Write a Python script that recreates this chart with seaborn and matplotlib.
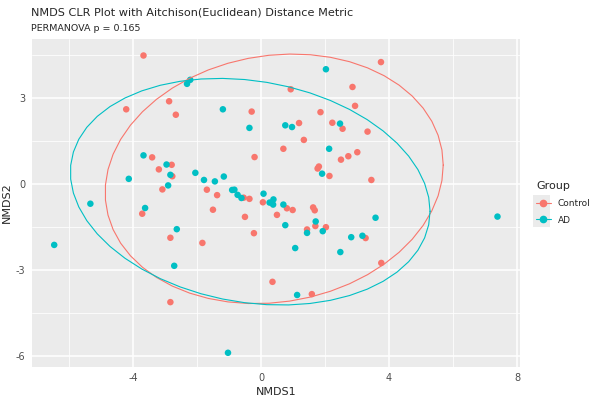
import numpy as np
import pandas as pd
import matplotlib
matplotlib.use("Agg")
import matplotlib.pyplot as plt
from matplotlib.lines import Line2D
from matplotlib.patches import Rectangle
from matplotlib.ticker import MultipleLocator
import seaborn as sns

# =========================
# DATA
# =========================
control_x = [-3.67, -4.21, -2.87, -2.66, -0.29, -0.20, -3.40, -3.19, -2.79, -2.77,
             -3.08, -1.69, -1.37, -0.54, -0.36, 0.06, -3.71, -1.50, -0.50, -2.83,
             -1.83, -0.22, -2.83, 0.36, 0.50, 0.81, 0.99, 1.63, 1.68, 1.70,
             2.03, 1.44, 3.27, 3.76, 1.59, 3.75, 0.93, 2.86, 2.94, 1.86,
             1.19, 2.23, 2.55, 3.33, 1.34, 0.70, 2.50, 2.73, 3.01, 1.77,
             1.81, 2.14, 3.45]
control_y = [4.49, 2.61, 2.89, 2.42, 2.53, 0.94, 0.93, 0.51, 0.67, 0.27,
             -0.19, -0.20, -0.39, -0.48, -0.52, -0.64, -1.04, -0.90, -1.15, -1.88,
             -2.06, -1.72, -4.13, -3.42, -1.08, -0.85, -0.91, -0.82, -0.92, -1.47,
             -1.51, -1.59, -1.89, -2.76, -3.85, 4.26, 3.31, 3.39, 2.73, 2.51,
             2.13, 2.14, 1.93, 1.83, 1.54, 1.23, 0.85, 0.97, 1.11, 0.54,
             0.61, 0.28, 0.14]

ad_x = [-2.31, -2.21, -1.19, -0.36, -3.67, -2.95, -2.83, -4.13, -2.05, -1.78,
        -1.44, -1.16, -2.90, -0.90, -0.83, -0.73, -0.61, 0.08, 0.27, 0.39,
        0.38, -3.62, -2.63, -6.46, -5.33, -2.71, -1.03, 0.70, 1.71, 1.93,
        1.44, 0.76, 1.07, 2.82, 3.17, 2.48, 3.58, 7.39, 1.13, 2.03,
        0.76, 0.97, 2.47, 2.13, 1.91]
ad_y = [3.50, 3.64, 2.61, 1.96, 1.00, 0.68, 0.32, 0.18, 0.39, 0.14,
        0.09, 0.26, -0.05, -0.21, -0.20, -0.38, -0.49, -0.34, -0.65, -0.54,
        -0.72, -0.84, -1.58, -2.13, -0.69, -2.86, -5.90, -0.72, -1.31, -1.65,
        -1.71, -1.44, -2.24, -1.86, -1.81, -2.38, -1.18, -1.14, -3.88, 4.01,
        2.05, 1.99, 2.11, 1.23, 0.36]

groups = ["Control", "AD"]
colors = {"Control": "#F8766D", "AD": "#00BFC4"}

df = pd.DataFrame({
    "NMDS1": control_x + ad_x,
    "NMDS2": control_y + ad_y,
    "Group": ["Control"] * len(control_x) + ["AD"] * len(ad_x),
})


# =========================
# 95% t ellipse like ggplot stat_ellipse (cov.trob)
# =========================
def cov_trob(x, nu=5, maxit=25, tol=0.01):
    n, p = x.shape
    loc = x.mean(axis=0)
    w = np.ones(n)
    for _ in range(maxit):
        w0 = w
        X = x - loc
        _, d, vt = np.linalg.svd(np.sqrt(w / w.sum())[:, None] * X, full_matrices=False)
        wX = X @ vt.T / d
        Q = (wX ** 2).sum(axis=1)
        w = (nu + p) / (nu + Q)
        loc = (w[:, None] * x).sum(axis=0) / w.sum()
        if np.all(np.abs(w - w0) < tol):
            break
    cov = (np.sqrt(w)[:, None] * X).T @ (np.sqrt(w)[:, None] * X) / n
    return loc, cov


def ellipse(x, level=0.95, segments=51):
    n = len(x)
    loc, cov = cov_trob(x)
    m = n - 1
    fq = (m / 2) * ((1 - level) ** (-2 / m) - 1)
    radius = np.sqrt(2 * fq)
    chol = np.linalg.cholesky(cov).T
    ang = np.linspace(0, 2 * np.pi, segments + 1)
    circ = np.column_stack([np.cos(ang), np.sin(ang)])
    return loc + radius * circ @ chol


# =========================
# PLOT
# =========================
sns.set_style("darkgrid", {"axes.facecolor": "#EBEBEB", "grid.color": "white"})
plt.rcParams["font.family"] = ["DejaVu Sans"]

fig = plt.figure(figsize=(6, 4), dpi=100)
ax = fig.add_axes([0.053, 0.083, 0.814, 0.819])

sns.scatterplot(data=df, x="NMDS1", y="NMDS2", hue="Group", palette=colors,
                hue_order=groups, s=22, linewidth=0, ax=ax, legend=False, zorder=3)

for g in groups:
    sub = df[df["Group"] == g][["NMDS1", "NMDS2"]].to_numpy()
    e = ellipse(sub)
    ax.plot(e[:, 0], e[:, 1], color=colors[g], lw=0.8, zorder=4)

ax.set_xlim(-7.16, 8.1)
ax.set_ylim(-6.39, 5.06)
ax.xaxis.set_major_locator(MultipleLocator(4))
ax.yaxis.set_major_locator(MultipleLocator(3))
ax.xaxis.set_minor_locator(MultipleLocator(2))
ax.yaxis.set_minor_locator(MultipleLocator(1.5))
ax.grid(which="major", color="white", lw=1.1)
ax.grid(which="minor", color="white", lw=0.55)
ax.set_axisbelow(True)
for s in ax.spines.values():
    s.set_visible(False)
ax.tick_params(which="major", length=2.5, width=0.8, color="#333333",
               labelsize=7, labelcolor="#4D4D4D", pad=2)
ax.tick_params(which="minor", length=0)
ax.set_xticklabels([str(int(t)) for t in ax.get_xticks()])
ax.set_yticklabels([str(int(t)) for t in ax.get_yticks()])

ax.set_xlabel("NMDS1", fontsize=8, labelpad=3)
ax.set_ylabel("NMDS2", fontsize=8, labelpad=3)

fig.text(0.052, 0.961, "NMDS CLR Plot with Aitchison(Euclidean) Distance Metric",
         fontsize=8.1, va="baseline")
fig.text(0.052, 0.923, "PERMANOVA p = 0.165", fontsize=6.8, va="baseline")

# legend key backgrounds (ggplot style)
for yk in (195, 211):
    fig.patches.append(Rectangle((533 / 600, 1 - (yk + 16) / 400), 17 / 600, 16 / 400,
                                 transform=fig.transFigure, facecolor="#EBEBEB",
                                 edgecolor="none", zorder=1))

handles = [Line2D([0], [0], color=colors[g], marker="o", markersize=4.5, lw=0.8)
           for g in groups]
leg = fig.legend(handles, groups, title="Group", loc="upper left",
                 bbox_to_anchor=(0.88, 0.565), frameon=False, fontsize=6.5,
                 title_fontsize=8, handlelength=1.6, labelspacing=0.8,
                 alignment="left")
leg.get_title().set_position((0, 1.5))

fig.savefig("out.png", dpi=100)
